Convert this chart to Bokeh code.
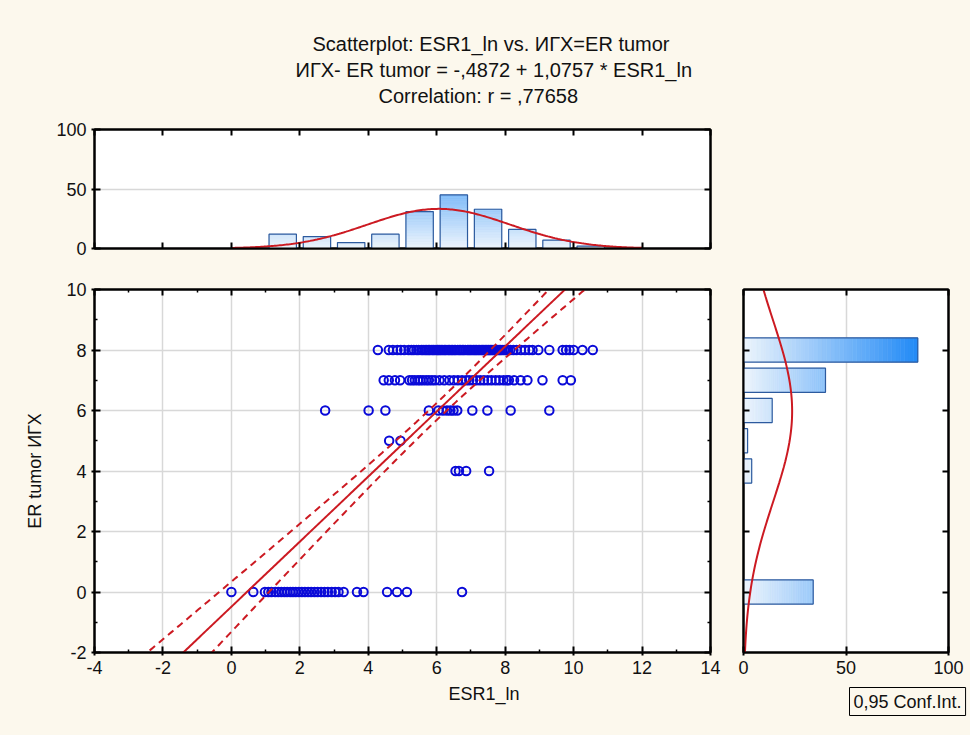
import numpy as np
from bokeh.plotting import figure
from bokeh.layouts import column, row
from bokeh.models import (Range1d, FixedTicker, LinearAxis, Title,
                          CustomJSTickFormatter)
from bokeh.embed import file_html
from bokeh.resources import INLINE

# ---------------------------------------------------------------- data --
# ESR1_ln values grouped by IHC ER tumor score
esr1_er8 = [4.28, 4.60, 4.72, 4.85, 4.95, 5.05, 5.18, 5.26, 5.33, 5.41, 5.47,
            5.55, 5.60, 5.66, 5.71, 5.76, 5.80, 5.86, 5.90, 5.95, 6.01, 6.04,
            6.09, 6.13, 6.18, 6.23, 6.27, 6.33, 6.37, 6.42, 6.46, 6.51, 6.55,
            6.61, 6.66, 6.70, 6.75, 6.79, 6.84, 6.90, 6.94, 6.98, 7.03, 7.08,
            7.12, 7.16, 7.21, 7.25, 7.30, 7.34, 7.38, 7.42, 7.46, 7.50, 7.53,
            7.57, 7.61, 7.65, 7.69, 7.73, 7.77, 7.82, 7.86, 7.91, 7.97, 8.03,
            8.08, 8.15, 8.24, 8.33, 8.46, 8.58, 8.70, 8.80, 8.97, 9.29, 9.68,
            9.78, 9.88, 10.00, 10.26, 10.56]
esr1_er7 = [4.45, 4.60, 4.78, 4.93, 5.20, 5.28, 5.36, 5.45, 5.52, 5.60, 5.69,
            5.77, 5.86, 5.95, 6.08, 6.22, 6.37, 6.50, 6.62, 6.74, 6.86, 6.95,
            7.06, 7.16, 7.27, 7.38, 7.49, 7.60, 7.72, 7.83, 7.95, 8.05, 8.11,
            8.26, 8.45, 8.65, 9.09, 9.68, 9.92]
esr1_er6 = [2.74, 4.01, 4.50, 5.77, 6.05, 6.18, 6.30, 6.40, 6.49, 6.60, 7.04,
            7.48, 8.16, 9.29]
esr1_er5 = [4.61, 4.94]
esr1_er4 = [6.55, 6.65, 6.86, 7.53]
esr1_er0 = [0.00, 0.64, 0.98, 1.08, 1.17, 1.28, 1.37, 1.46, 1.55, 1.63, 1.72,
            1.80, 1.88, 1.97, 2.06, 2.15, 2.24, 2.33, 2.43, 2.52, 2.62, 2.72,
            2.82, 2.93, 3.03, 3.13, 3.28, 3.67, 3.86, 4.55, 4.84, 5.13, 6.74]

# histogram of ESR1_ln (bins of width 1, left edges)
esr1_bin_left = [1, 2, 3, 4, 5, 6, 7, 8, 9, 10]
esr1_counts = [12, 10, 5, 12, 31, 45, 33, 16, 7, 2]

# histogram of the IHC ER tumor score
er_levels = [8, 7, 6, 5, 4, 0]
er_counts = [85, 40, 14, 2, 4, 34]

# linear fit stated in the header
intercept = -0.4872
slope = 1.0757
r_corr = 0.77658
t_975 = 1.973

x_ticks = [-4, -2, 0, 2, 4, 6, 8, 10, 12, 14]
x_minor = [-3, -1, 1, 3, 5, 7, 9, 11, 13]
y_ticks = [-2, 0, 2, 4, 6, 8, 10]
y_minor = [-1, 1, 3, 5, 7, 9]
count_ticks = [0, 50, 100]

header = ["Scatterplot: ESR1_ln vs. ИГХ=ER tumor",
          "ИГХ- ER tumor = -,4872 + 1,0757 * ESR1_ln",
          "Correlation: r = ,77658"]
# left offsets (px from the plot frame) that centre each header line
header_offsets = [218, 201, 284]

# ---------------------------------------------------------------- style --
CREAM = "#fcf8ed"
FONT = "Liberation Sans"
INK = "#111111"
BLUE_PTS = "#0a0ad8"
RED = "#cc1a22"
BAR_EDGE = "#2c5a9e"
GRID = "#d8d8d8"
LIGHT = np.array([238, 245, 252])
DEEP = np.array([26, 134, 246])


def shade(v, vmax=88.0):
    t = min(max(v / vmax, 0.0), 1.0)
    c = (LIGHT + (DEEP - LIGHT) * t).round().astype(int)
    return "#%02x%02x%02x" % tuple(c)


def style_axis(ax, ticks, minor=None, labels=True):
    ax.ticker = FixedTicker(ticks=ticks, minor_ticks=minor or [])
    ax.axis_line_color = "black"
    ax.axis_line_width = 2
    ax.major_tick_line_color = "black"
    ax.major_tick_line_width = 2
    ax.major_tick_in = 6
    ax.major_tick_out = 3 if labels else 0
    ax.minor_tick_line_color = "black"
    ax.minor_tick_line_width = 1.5
    ax.minor_tick_in = 3
    ax.minor_tick_out = 0
    ax.major_label_text_font = FONT
    ax.major_label_text_font_size = "18px"
    ax.major_label_text_color = INK
    ax.major_label_standoff = 5
    if labels:
        ax.formatter = CustomJSTickFormatter(code="return tick.toString()")
    else:
        ax.formatter = CustomJSTickFormatter(code="return ''")
        ax.major_label_standoff = 0


def base_fig(**kw):
    p = figure(output_backend="svg", toolbar_location=None, **kw)
    p.border_fill_color = CREAM
    p.background_fill_color = "white"
    p.outline_line_color = "black"
    p.outline_line_width = 2
    p.xgrid.grid_line_color = GRID
    p.ygrid.grid_line_color = GRID
    p.xgrid.grid_line_width = 1.5
    p.ygrid.grid_line_width = 1.5
    return p


x_range = Range1d(-4, 14)
y_range = Range1d(-2, 10)

# ------------------------------------------------------------- header --
head = figure(width=970, height=110, output_backend="svg", toolbar_location=None,
              x_axis_location=None, y_axis_location=None,
              min_border_left=0, min_border_right=0, min_border_bottom=0,
              min_border_top=107)
head.border_fill_color = CREAM
head.background_fill_color = CREAM
head.outline_line_color = None
head.grid.visible = False
for txt, off in reversed(list(zip(header, header_offsets))):
    head.add_layout(Title(text=txt, align="left", offset=off, standoff=1.5,
                          text_font=FONT, text_font_size="20px",
                          text_font_style="normal", text_color=INK), "above")

# ------------------------------------------------- top: ESR1_ln histogram --
top = base_fig(width=970, height=152, x_range=x_range, y_range=Range1d(0, 100),
               min_border_left=94, min_border_right=260, min_border_top=19,
               min_border_bottom=14)
style_axis(top.xaxis[0], x_ticks, labels=False)
style_axis(top.yaxis[0], count_ticks)
top.xgrid.visible = False
top.ygrid.ticker = FixedTicker(ticks=[50])
ax_t = LinearAxis()
style_axis(ax_t, x_ticks, labels=False)
top.add_layout(ax_t, "above")
ax_r = LinearAxis()
style_axis(ax_r, count_ticks, labels=False)
top.add_layout(ax_r, "right")

seg_l, seg_r, seg_b, seg_t, seg_c = [], [], [], [], []
for left, cnt in zip(esr1_bin_left, esr1_counts):
    edges = np.linspace(0, cnt, 25)
    for lo, hi in zip(edges[:-1], edges[1:]):
        seg_l.append(left + 0.1)
        seg_r.append(left + 0.9)
        seg_b.append(lo)
        seg_t.append(hi)
        seg_c.append(shade((lo + hi) / 2))
top.quad(left=seg_l, right=seg_r, bottom=seg_b, top=seg_t,
         fill_color=seg_c, line_color=seg_c, line_width=0.6)
top.quad(left=[b + 0.1 for b in esr1_bin_left],
         right=[b + 0.9 for b in esr1_bin_left],
         bottom=0, top=esr1_counts, fill_color=None,
         line_color=BAR_EDGE, line_width=1.2)

centers = np.array(esr1_bin_left) + 0.5
cnts = np.array(esr1_counts, dtype=float)
n_x = cnts.sum()
mean_x = (centers * cnts).sum() / n_x
sd_x = np.sqrt(((centers - mean_x) ** 2 * cnts).sum() / n_x)
xs = np.linspace(0, 12, 241)
top.line(xs, n_x / (sd_x * np.sqrt(2 * np.pi)) * np.exp(-0.5 * ((xs - mean_x) / sd_x) ** 2),
         line_color=RED, line_width=2)

# ------------------------------------------------------- main scatterplot --
main = base_fig(width=730, height=473, x_range=x_range, y_range=y_range,
                min_border_left=94, min_border_right=20, min_border_top=27,
                min_border_bottom=83)
style_axis(main.xaxis[0], x_ticks, x_minor)
style_axis(main.yaxis[0], y_ticks, y_minor)
main.xgrid.ticker = FixedTicker(ticks=x_ticks)
main.ygrid.ticker = FixedTicker(ticks=y_ticks)
ax_t2 = LinearAxis()
style_axis(ax_t2, x_ticks, x_minor, labels=False)
main.add_layout(ax_t2, "above")
ax_r2 = LinearAxis()
style_axis(ax_r2, y_ticks, y_minor, labels=False)
main.add_layout(ax_r2, "right")

main.yaxis[0].axis_label = "ER tumor ИГХ"
main.yaxis[0].axis_label_text_font = FONT
main.yaxis[0].axis_label_text_font_size = "18px"
main.yaxis[0].axis_label_text_font_style = "normal"
main.yaxis[0].axis_label_text_color = INK
main.yaxis[0].axis_label_standoff = 18

groups = [(8, esr1_er8), (7, esr1_er7), (6, esr1_er6), (5, esr1_er5),
          (4, esr1_er4), (0, esr1_er0)]
pts_x = [v for _, vals in groups for v in vals]
pts_y = [lvl for lvl, vals in groups for _ in vals]
main.scatter(pts_x, pts_y, marker="circle", size=8.5, fill_color=None,
             line_color=BLUE_PTS, line_width=2)

# regression line with 95% confidence band for the mean
lv = np.array(er_levels, dtype=float)
lc = np.array(er_counts, dtype=float)
n = lc.sum()
mean_y = (lv * lc).sum() / n
sd_y = np.sqrt(((lv - mean_y) ** 2 * lc).sum() / (n - 1))
x_bar = (mean_y - intercept) / slope
sxx = (n - 1) * (r_corr * sd_y / slope) ** 2
s_res = sd_y * np.sqrt((1 - r_corr ** 2) * (n - 1) / (n - 2))
xl = np.linspace(-4, 14, 361)
yhat = intercept + slope * xl
half = t_975 * s_res * np.sqrt(1 / n + (xl - x_bar) ** 2 / sxx)
main.line(xl, yhat, line_color=RED, line_width=2)
main.line(xl, yhat + half, line_color=RED, line_width=2, line_dash="7 5")
main.line(xl, yhat - half, line_color=RED, line_width=2, line_dash="7 5")

# x-axis caption, centred on the page width
main.add_layout(Title(text="ESR1_ln", align="left", offset=354,
                      text_font=FONT, text_font_size="18px",
                      text_font_style="normal", text_color=INK), "below")

# ------------------------------------------ right: ER tumor score histogram --
side = base_fig(width=240, height=473, x_range=Range1d(0, 100), y_range=y_range,
                min_border_left=13, min_border_right=22, min_border_top=27,
                min_border_bottom=83)
style_axis(side.xaxis[0], count_ticks)
style_axis(side.yaxis[0], y_ticks[1:-1], labels=False)
side.ygrid.visible = False
side.xgrid.ticker = FixedTicker(ticks=[50])
ax_t3 = LinearAxis()
style_axis(ax_t3, count_ticks, labels=False)
side.add_layout(ax_t3, "above")
ax_r3 = LinearAxis()
style_axis(ax_r3, y_ticks[1:-1], labels=False)
side.add_layout(ax_r3, "right")

h_l, h_r, h_b, h_t, h_c = [], [], [], [], []
for lvl, cnt in zip(er_levels, er_counts):
    edges = np.linspace(0, cnt, 41)
    for lo, hi in zip(edges[:-1], edges[1:]):
        h_l.append(lo)
        h_r.append(hi)
        h_b.append(lvl - 0.4)
        h_t.append(lvl + 0.4)
        h_c.append(shade((lo + hi) / 2))
side.quad(left=h_l, right=h_r, bottom=h_b, top=h_t,
          fill_color=h_c, line_color=h_c, line_width=0.6)
side.quad(left=0, right=er_counts, bottom=[v - 0.4 for v in er_levels],
          top=[v + 0.4 for v in er_levels], fill_color=None,
          line_color=BAR_EDGE, line_width=1.2)

ys = np.linspace(-2, 10, 241)
sd_pop = np.sqrt(((lv - mean_y) ** 2 * lc).sum() / n)
side.line(n / (sd_pop * np.sqrt(2 * np.pi)) * np.exp(-0.5 * ((ys - mean_y) / sd_pop) ** 2),
          ys, line_color=RED, line_width=2)

# confidence-band key
side.add_layout(Title(text="0,95 Conf.Int.", align="left", offset=106,
                      standoff=18, padding=4,
                      text_font=FONT, text_font_size="18px",
                      text_font_style="normal", text_color=INK,
                      border_line_color="black", border_line_width=1),
                "below")

layout = column(head, top, row(main, side))
html = file_html(layout, INLINE)
html = html.replace("<head>", "<head><style>html,body{margin:0;padding:0;background:%s;}</style>" % CREAM, 1)
open("out.html", "w").write(html)
